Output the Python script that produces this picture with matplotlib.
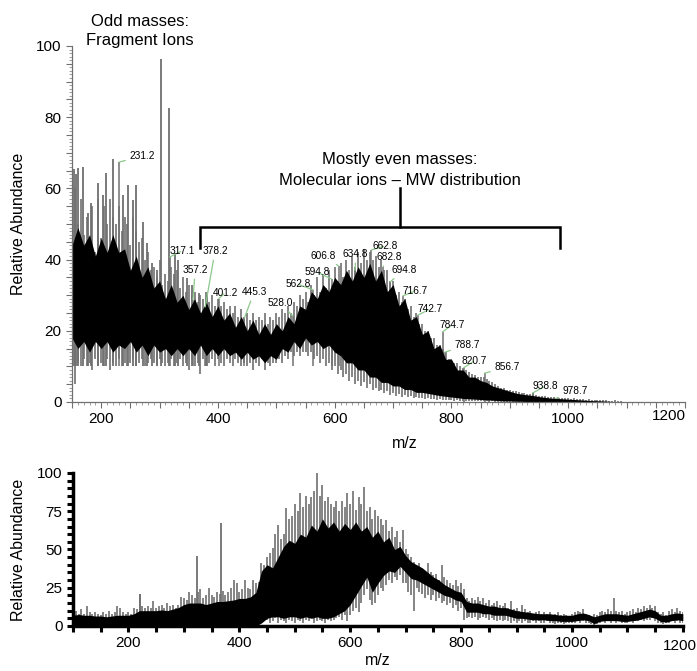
import numpy as np
import matplotlib
matplotlib.use("Agg")
import matplotlib.pyplot as plt
from matplotlib.ticker import MultipleLocator, FuncFormatter

plt.rcParams['font.family'] = ['Liberation Sans', 'DejaVu Sans']

# ---------------- top spectrum ----------------
# grey spikes, every 5 m/z from 150 to 1100
top_spike_mz = np.arange(150, 1101, 5)
top_spike_hi = [
    45, 60, 50, 57, 47, 52, 44, 55, 42, 57,
    46, 55, 50, 57, 52, 50, 55, 48, 52, 50,
    44, 52, 48, 45, 46, 40, 42, 37, 38, 35,
    40, 33, 36, 34, 38, 36, 37, 32, 35, 31,
    33, 30, 31, 28, 30, 29, 31, 28, 30, 27,
    29, 27, 28, 26, 27, 25, 27, 24, 26, 24,
    25, 23, 25, 23, 24, 23, 25, 22, 24, 23,
    25, 24, 26, 25, 27, 25, 28, 27, 30, 29,
    31, 28, 33, 30, 35, 31, 36, 32, 37, 33,
    38, 34, 39, 35, 40, 37, 41, 38, 42, 39,
    43, 40, 42, 40, 41, 38, 40, 37, 37, 34,
    34, 30, 31, 28, 29, 26, 27, 24, 25, 22,
    22, 20, 20, 18, 18, 16, 16, 15, 14, 12,
    12, 11, 11, 10, 9.5, 9, 8.5, 8, 7.5, 7,
    7, 7, 6.5, 6, 5.5, 5, 4.5, 4, 4, 3.5,
    3.5, 3, 3, 2.8, 2.5, 2.5, 2.3, 2.2, 2.5, 2,
    1.8, 1.8, 1.6, 1.5, 1.4, 1.3, 1.2, 1.1, 1.1, 1,
    1.2, 0.9, 1, 0.8, 0.9, 0.8, 0.7, 0.8, 0.6, 0.6,
    0.7, 0.5, 0.5, 0.6, 0.4, 0.4, 0.5, 0.2, 0.2, 0.1,
    0.1]
top_spike_lo = [
    12, 5, 11, 10, 12, 10, 11, 9, 12, 10,
    11, 10, 12, 9, 11, 10, 12, 10, 11, 10,
    11, 12, 10, 11, 12, 10, 11, 12, 11, 10,
    12, 11, 10, 11, 12, 10, 11, 12, 10, 11,
    9, 12, 10, 11, 8, 12, 10, 11, 12, 10,
    12, 11, 10, 12, 11, 10, 12, 11, 10, 11,
    10, 11, 9, 11, 10, 12, 9, 11, 10, 11,
    11, 12, 11, 13, 12, 14, 13, 14, 13, 14,
    14, 13, 14, 12, 13, 11, 12, 10, 11, 9,
    10, 8, 9, 7, 8, 6, 7, 5, 6, 4.5,
    5.5, 4, 5, 3.5, 4, 3, 3.5, 2.5, 3, 2,
    2.5, 1.8, 2.2, 1.5, 2, 1.3, 1.6, 1.1, 1.4, 1,
    1.2, 0.9, 1, 0.8, 0.9, 0.7, 0.8, 0.6, 0.7, 0.5,
    0.5, 0.4, 0.5, 0.3, 0.4, 0.3, 0.3, 0.2, 0.3, 0.2,
    0.2, 0.2, 0.2, 0.1, 0.2, 0.1, 0.1, 0.1, 0.1, 0.1,
    0.1, 0.1, 0.1, 0.1, 0.1, 0.1, 0.1, 0.1, 0.1, 0.1,
    0, 0, 0, 0, 0, 0, 0, 0, 0, 0,
    0, 0, 0, 0, 0, 0, 0, 0, 0, 0,
    0, 0, 0, 0, 0, 0, 0, 0, 0, 0,
    0]

# dense black core, every 10 m/z
top_core_mz = np.arange(150, 1101, 10)
top_core_hi = [
    44, 49, 44, 47, 41, 46, 42, 47, 42, 43,
    37, 41, 35, 38, 32, 34, 29, 33, 28, 30,
    26, 29, 25, 28, 24, 27, 23, 25, 21, 24,
    20, 23, 19, 22, 19, 22, 20, 24, 22, 27,
    26, 31, 29, 33, 31, 35, 33, 37, 34, 38,
    35, 39, 34, 37, 31, 33, 27, 29, 23, 24,
    19, 20, 15, 16, 12, 12, 9, 9, 7, 7,
    6, 5.5, 4.5, 4, 3.5, 3, 2.5, 2.2, 2, 1.8,
    1.5, 1.3, 1.1, 1, 0.9, 0.8, 0.7, 0.6, 0.5, 0.4,
    0.35, 0.3, 0.2, 0.1, 0, 0]
top_core_lo = [
    18, 15, 17, 14, 17, 15, 17, 14, 16, 15,
    17, 14, 16, 13, 16, 14, 15, 13, 15, 13,
    15, 13, 16, 13, 15, 13, 15, 13, 14, 12,
    14, 12, 13, 11, 13, 12, 15, 14, 17, 15,
    18, 16, 17, 15, 16, 14, 13, 11, 11, 9,
    9, 7, 7, 5.5, 5.5, 4.5, 4.5, 3.5, 3.5, 2.7,
    2.7, 2.4, 2.1, 1.8, 1.6, 1.4, 1.2, 1, 0.9, 0.8,
    0.7, 0.6, 0.5, 0.4, 0.3, 0.3, 0.2, 0.2, 0.1, 0.1,
    0.1, 0.1, 0, 0, 0, 0, 0, 0, 0, 0,
    0, 0, 0, 0, 0, 0]

# odd-mass fragment peaks that stand out
top_frag_mz = [153, 156, 161, 169, 177, 183, 195, 203, 209, 220, 237, 246,
               254, 260, 271, 278, 287, 295, 302, 316, 326, 332, 347, 355, 368, 381]
top_frag_val = [65.5, 64, 65.6, 66, 53, 56, 61.5, 58, 64.3, 68.3, 58, 61,
                56.7, 61, 50.6, 44.7, 39, 37, 96.3, 82.5, 41.8, 40, 34.8, 33, 30.6, 30]

# labelled peaks
label_mz = [231.2, 317.1, 357.2, 378.2, 401.2, 445.3, 528.0, 562.8, 594.8, 606.8,
            634.8, 662.8, 682.8, 694.8, 716.7, 742.7, 784.7, 788.7, 820.7, 856.7,
            938.8, 978.7]
label_val = [67.4, 40.7, 28.7, 26.7, 29, 23.6, 24.2, 31.5, 34.5, 38.2,
             37, 42.7, 38, 33.7, 29.8, 24.4, 19.7, 14, 9.6, 8.1,
             2.5, 1]
# where each label text sits (m/z, abundance)
label_text_xy = [(270, 69.1), (338, 42.4), (361, 37.1), (395, 42.4), (412, 30.6),
                 (462, 30.9), (506, 27.8), (537, 33.1), (570, 36.5), (580, 41),
                 (636, 41.6), (686, 43.8), (693, 40.7), (719, 37.1), (738, 31.2),
                 (763, 26.1), (801, 21.6), (827, 16), (839, 11.5), (895, 9.8),
                 (960, 4.4), (1012, 3.0)]

# ---------------- bottom spectrum ----------------
bot_spike_mz = np.arange(100, 1201, 5)
bot_spike_hi = [
    9, 10, 8, 11, 8, 13, 9, 8, 9, 8,
    7, 9, 8, 10, 8, 9, 13, 12, 9, 8,
    9, 8, 12, 11, 21, 13, 12, 13, 12, 16,
    12, 13, 14, 12, 15, 13, 14, 12, 14, 19,
    18, 17, 22, 20, 18, 22, 24, 18, 20, 25,
    20, 19, 22, 21, 23, 20, 22, 25, 30, 28,
    22, 24, 30, 25, 24, 30, 28, 29, 41, 40,
    45, 48, 51, 60, 66, 57, 60, 77, 70, 72,
    80, 75, 87, 78, 85, 80, 84, 88, 100, 85,
    92, 82, 84, 80, 78, 82, 75, 82, 78, 87,
    80, 88, 76, 84, 80, 91, 75, 78, 70, 76,
    72, 70, 66, 69, 62, 65, 58, 62, 55, 63,
    50, 47, 45, 42, 38, 41, 37, 36, 41, 35,
    33, 34, 30, 40, 32, 30, 28, 27, 30, 26,
    28, 24, 18, 16, 18, 17, 19, 16, 18, 15,
    17, 14, 15, 16, 14, 13, 15, 12, 16, 11,
    12, 10, 14, 11, 9, 10, 8, 9, 10, 8,
    9, 8, 9, 7, 8, 9, 7, 8, 7, 6,
    8, 9, 10, 9, 11, 8, 7, 6, 8, 7,
    9, 10, 9, 11, 10, 18, 10, 9, 10, 8,
    9, 10, 11, 9, 12, 11, 13, 12, 14, 12,
    13, 9, 8, 9, 7, 10, 11, 9, 12, 10,
    9]
bot_spike_lo = [
    0, 0, 0, 0, 0, 0, 0, 0, 0, 0,
    0, 0, 0, 0, 0, 0, 0, 0, 0, 0,
    0, 0, 0, 0, 0, 0, 0, 0, 0, 0,
    0, 0, 0, 0, 0, 0, 0, 0, 0, 0,
    0, 0, 0, 0, 0, 0, 0, 0, 0, 0,
    0, 0, 0, 0, 0, 0, 0, 0, 0, 0,
    0, 0, 0, 0, 0, 0, 0, 1, 2, 3,
    4, 2, 3, 5, 2, 4, 3, 2, 4, 3,
    2, 4, 3, 2, 4, 3, 5, 2, 3, 4,
    3, 2, 4, 3, 4, 5, 6, 4, 7, 3,
    7, 10, 12, 9, 15, 20, 24, 17, 14, 15,
    20, 25, 23, 27, 30, 28, 32, 30, 33, 28,
    28, 22, 20, 10, 25, 22, 21, 18, 20, 17,
    20, 16, 18, 15, 16, 14, 15, 12, 14, 10,
    12, 4, 5, 6, 5, 6, 4, 5, 6, 5,
    4, 5, 4, 3, 4, 3, 4, 3, 2, 3,
    2, 3, 2, 3, 2, 2, 3, 2, 3, 2,
    2, 3, 2, 2, 1, 2, 2, 1, 2, 2,
    2, 2, 3, 2, 3, 2, 2, 1, 0.5, 1,
    2, 3, 2, 3, 2, 3, 2, 3, 2, 2,
    2, 3, 2, 3, 3, 4, 3, 4, 4, 5,
    3, 2, 2, 1, 2, 2, 3, 2, 3, 2,
    2]

bot_core_mz = np.arange(100, 1201, 10)
bot_core_hi = [
    7, 7.5, 7, 7, 6.5, 6.5, 6, 6.5, 7, 7,
    7, 8, 10, 10, 10, 10, 10.5, 10, 11, 12,
    14, 15, 15, 15, 14, 15, 16, 16, 16.5, 17,
    18, 18, 19, 22, 36, 40, 38, 45, 52, 56,
    54, 60, 58, 66, 62, 70, 64, 68, 62, 67,
    63, 68, 62, 65, 58, 62, 55, 58, 50, 52,
    46, 42, 40, 38, 35, 32, 30, 27, 25, 23,
    22, 16, 15, 15, 14, 13, 13, 12, 12, 11,
    10, 9.5, 9, 8.5, 8, 8, 8, 7.5, 7, 7,
    7, 8, 8.5, 7.5, 6, 7, 8, 8, 8, 7.5,
    7, 8, 9, 10, 11, 10, 7, 7, 8, 8.5,
    8]
bot_core_lo = [
    0, 0, 0, 0, 0, 0, 0, 0, 0, 0,
    0, 0, 0, 0, 0, 0, 0, 0, 0, 0,
    0, 0, 0, 0, 0, 0, 0, 0, 0, 0,
    0, 0, 0, 0, 2, 5, 6, 6, 5, 6,
    6, 5, 6, 5, 6, 5, 5, 6, 8, 10,
    14, 20, 26, 32, 22, 28, 33, 36, 35, 39,
    35, 31, 30, 28, 26, 24, 22, 20, 19, 17,
    16, 9, 9, 9, 8, 8, 7, 7, 7, 6,
    5, 5, 4.5, 4, 4, 4, 3.5, 3.5, 3, 3,
    3, 3.5, 4, 3.5, 1.5, 3, 3.5, 3.5, 3.5, 3,
    3, 3.5, 4, 5, 6, 5, 3, 2.5, 3.5, 4,
    3.5]

bot_peak_mz = [220, 323, 367]
bot_peak_val = [21, 46, 67]

grey = '#707070'
green = '#8cc98c'

fig = plt.figure(figsize=(6.97, 6.71), dpi=100)

# ======================= top panel =======================
ax1 = fig.add_axes([0.1033, 0.4009, 0.8795, 0.5306])
ax1.vlines(top_spike_mz, top_spike_lo, top_spike_hi, color=grey, lw=1.2, zorder=1)
ax1.vlines(top_frag_mz, 10, top_frag_val, color=grey, lw=1.3, zorder=1.5)
label_base = np.where(np.array(label_val) > 10, 10, 0)
ax1.vlines(label_mz, label_base, label_val, color=grey, lw=1.1, zorder=1.5)
ax1.fill_between(top_core_mz, top_core_lo, top_core_hi, color='black', lw=0, zorder=2)

for mz, v, (tx, ty) in zip(label_mz, label_val, label_text_xy):
    ax1.annotate(f"{mz:.1f}", xy=(mz, v), xytext=(tx, ty), fontsize=7.3,
                 ha='center', va='center', zorder=5,
                 arrowprops=dict(arrowstyle='-', color=green, lw=0.9,
                                 shrinkA=1, shrinkB=0))

ax1.text(266, 104.2, "Odd masses:\nFragment Ions", ha='center', va='center',
         fontsize=12, linespacing=1.3, clip_on=False)
ax1.text(712, 65.2, "Mostly even masses:\nMolecular ions \u2013 MW distribution",
         ha='center', va='center', fontsize=12, linespacing=1.5)
# bracket
br_left, br_right, br_mid = 369, 986, 712
br_y, br_drop, br_top = 49.2, 43.3, 60.1
ax1.plot([br_left, br_left, br_right, br_right], [br_drop, br_y, br_y, br_drop],
         color='black', lw=1.8, solid_joinstyle='miter')
ax1.plot([br_mid, br_mid], [br_y, br_top], color='black', lw=1.8)

ax1.set_xlim(150, 1200)
ax1.set_ylim(0, 100)
for s in ['top', 'right']:
    ax1.spines[s].set_visible(False)
for s in ['left', 'bottom']:
    ax1.spines[s].set_color('#707070')
    ax1.spines[s].set_linewidth(0.9)
ax1.xaxis.set_major_locator(MultipleLocator(50))
ax1.xaxis.set_minor_locator(MultipleLocator(10))
ax1.yaxis.set_major_locator(MultipleLocator(5))
ax1.yaxis.set_minor_locator(MultipleLocator(1))
ax1.xaxis.set_major_formatter(
    FuncFormatter(lambda v, p: f"{v:.0f}" if v % 200 == 0 and v < 1200 else ""))
ax1.yaxis.set_major_formatter(FuncFormatter(lambda v, p: f"{v:.0f}" if v % 20 == 0 else ""))
ax1.tick_params(which='major', length=4, width=0.8, color='#707070', labelsize=11)
ax1.tick_params(which='minor', length=2, width=0.6, color='#909090')
ax1.text(1201, -0.02, "1200", transform=ax1.get_xaxis_transform(),
         ha='right', va='top', fontsize=11)
ax1.set_xlabel("m/z", fontsize=11.5)
ax1.xaxis.set_label_coords(0.543, -0.095)
ax1.set_ylabel("Relative Abundance", fontsize=11.5)
ax1.yaxis.set_label_coords(-0.075, 0.5)

# ======================= bottom panel =======================
ax2 = fig.add_axes([0.1047, 0.0671, 0.875, 0.228])
ax2.vlines(bot_spike_mz, bot_spike_lo, bot_spike_hi, color=grey, lw=1.2, zorder=1)
ax2.vlines(bot_peak_mz, 0, bot_peak_val, color=grey, lw=1.3, zorder=1.5)
ax2.fill_between(bot_core_mz, bot_core_lo, bot_core_hi, color='black', lw=0, zorder=2)

ax2.set_xlim(100, 1200)
ax2.set_ylim(0, 100)
for s in ['top', 'right']:
    ax2.spines[s].set_visible(False)
for s in ['left', 'bottom']:
    ax2.spines[s].set_linewidth(2.5)
ax2.xaxis.set_major_locator(MultipleLocator(50))
ax2.yaxis.set_major_locator(MultipleLocator(5))
ax2.xaxis.set_major_formatter(
    FuncFormatter(lambda v, p: f"{v:.0f}" if v % 200 == 0 and v < 1200 else ""))
ax2.yaxis.set_major_formatter(FuncFormatter(lambda v, p: f"{v:.0f}" if v % 25 == 0 else ""))
ax2.tick_params(which='major', length=4, width=2.2, labelsize=11)
ax2.text(1194, -0.085, "1200", transform=ax2.get_xaxis_transform(),
         ha='center', va='top', fontsize=11)
ax2.set_xlabel("m/z", fontsize=11.5)
ax2.xaxis.set_label_coords(0.5, -0.175)
ax2.set_ylabel("Relative Abundance", fontsize=11.5)
ax2.yaxis.set_label_coords(-0.077, 0.5)

fig.savefig("out.png", dpi=100)
